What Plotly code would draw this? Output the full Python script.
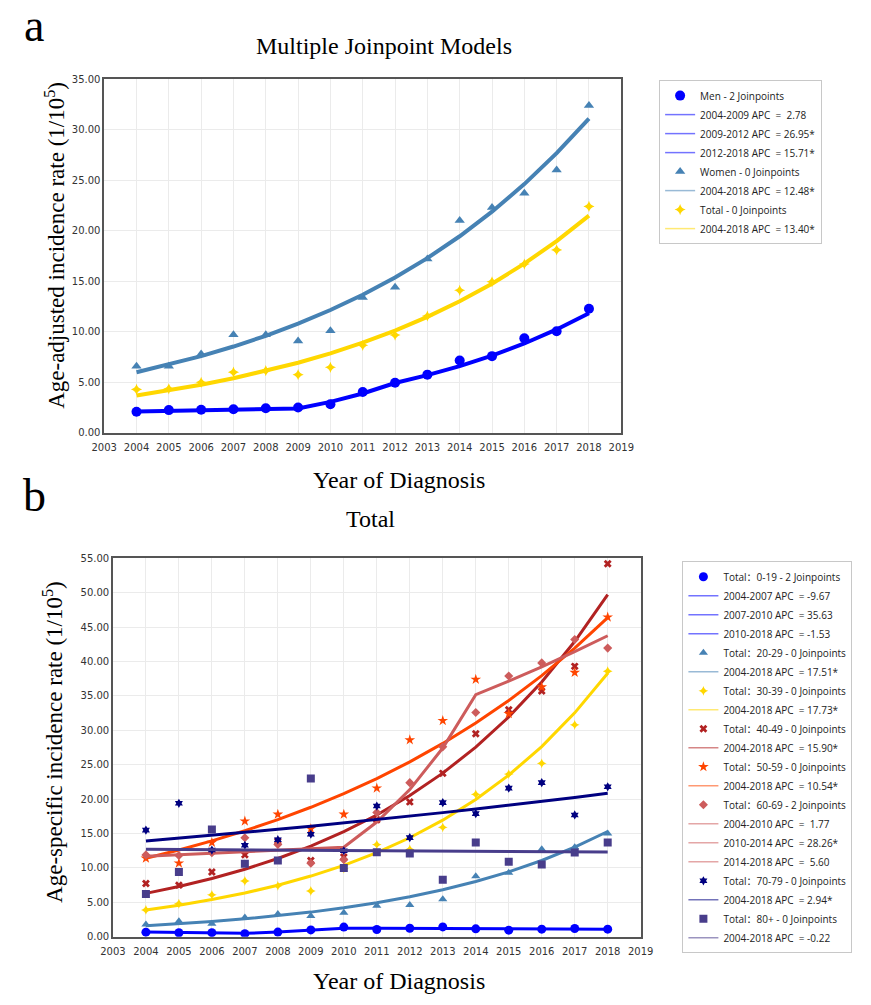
import plotly.graph_objects as go

# ---------------- data ----------------
years = [2004, 2005, 2006, 2007, 2008, 2009, 2010, 2011, 2012, 2013, 2014, 2015, 2016, 2017, 2018]
x_ticks = list(range(2003, 2020))

# Panel a
men_obs = [2.08, 2.25, 2.28, 2.34, 2.44, 2.50, 2.83, 4.04, 4.95, 5.76, 7.16, 7.59, 9.35, 10.06, 12.28]
men_fit = [2.10, 2.16, 2.22, 2.28, 2.35, 2.41, 3.06, 3.89, 4.93, 5.71, 6.60, 7.64, 8.84, 10.23, 11.84]
women_obs = [6.6, 6.6, 7.8, 9.7, 9.7, 9.1, 10.1, 13.4, 14.4, 17.2, 21.0, 22.3, 23.7, 26.0, 32.4]
women_fit = [6.0, 6.75, 7.59, 8.54, 9.60, 10.80, 12.15, 13.67, 15.37, 17.29, 19.45, 21.88, 24.61, 27.68, 31.10]
total_obs = [4.3, 4.36, 5.0, 6.0, 6.15, 5.76, 6.48, 8.66, 9.67, 11.56, 14.1, 14.95, 16.7, 18.1, 22.4]
total_fit = [3.7, 4.2, 4.76, 5.4, 6.12, 6.94, 7.87, 8.93, 10.12, 11.48, 13.02, 14.76, 16.74, 18.98, 21.5]

# Panel b
a019_obs = [0.67, 0.58, 0.60, 0.45, 0.68, 1.0, 1.4, 1.05, 1.24, 1.43, 1.15, 0.96, 1.1, 1.2, 1.1]
a019_fit = [0.68, 0.61, 0.55, 0.50, 0.68, 0.92, 1.25, 1.23, 1.21, 1.19, 1.18, 1.16, 1.14, 1.12, 1.10]
a2029_obs = [1.77, 2.25, 1.9, 2.8, 3.3, 3.0, 3.5, 4.5, 4.6, 5.46, 8.8, 9.3, 12.7, 13.0, 15.0]
a2029_fit = [1.6, 1.88, 2.21, 2.6, 3.05, 3.58, 4.21, 4.95, 5.81, 6.83, 8.03, 9.43, 11.08, 13.02, 15.3]
a3039_obs = [3.9, 4.8, 6.1, 8.1, 7.4, 6.65, 9.9, 13.4, 12.7, 15.9, 20.7, 23.65, 25.2, 30.8, 38.6]
a3039_fit = [3.9, 4.59, 5.41, 6.36, 7.49, 8.82, 10.38, 12.22, 14.39, 16.94, 19.94, 23.48, 27.64, 32.54, 38.3]
a4049_obs = [7.75, 7.5, 9.4, 11.9, 13.9, 11.1, 11.6, 17.0, 19.6, 23.75, 29.5, 33.0, 35.7, 39.3, 54.2]
a4049_fit = [6.3, 7.3, 8.46, 9.81, 11.37, 13.18, 15.27, 17.7, 20.52, 23.78, 27.56, 31.94, 37.02, 42.91, 49.73]
a5059_obs = [11.4, 10.7, 13.7, 16.8, 17.8, 15.7, 17.8, 21.6, 28.6, 31.4, 37.4, 32.4, 36.3, 38.4, 46.45]
a5059_fit = [11.4, 12.6, 13.93, 15.4, 17.02, 18.82, 20.8, 22.99, 25.42, 28.1, 31.06, 34.33, 37.95, 41.95, 46.37]
a6069_obs = [11.9, 11.8, 12.2, 14.4, 13.4, 10.7, 11.2, 18.05, 22.4, 27.6, 32.6, 37.9, 39.8, 43.2, 41.95]
a6069_fit = [11.7, 11.91, 12.12, 12.33, 12.55, 12.77, 13.0, 16.67, 21.39, 27.43, 35.18, 37.15, 39.23, 41.43, 43.75]
a7079_obs = [15.5, 19.4, 12.6, 13.3, 14.1, 14.9, 12.5, 19.0, 14.4, 19.5, 17.9, 21.6, 22.4, 17.7, 21.8]
a7079_fit = [13.9, 14.31, 14.73, 15.16, 15.61, 16.07, 16.54, 17.02, 17.52, 18.04, 18.57, 19.11, 19.67, 20.25, 20.85]
a80_obs = [6.2, 9.4, 15.6, 10.6, 11.1, 23.0, 10.0, 12.3, 12.1, 8.3, 13.7, 10.9, 10.5, 12.25, 13.7]
a80_fit = [12.7, 12.67, 12.64, 12.62, 12.59, 12.56, 12.53, 12.51, 12.48, 12.45, 12.42, 12.40, 12.37, 12.34, 12.31]

NB = "\u00a0"
def apc(period, value):
    return f"{period} APC{NB}{NB}={NB}" + value.replace(" ", NB)

series_a = [
    ("Men - 2 Joinpoints", men_obs, men_fit, "#0000FF", "circle", 10,
     [apc("2004-2009", " 2.78"), apc("2009-2012", "26.95*"), apc("2012-2018", "15.71*")]),
    ("Women - 0 Joinpoints", women_obs, women_fit, "#4682B4", "triangle-up", 9,
     [apc("2004-2018", "12.48*")]),
    ("Total - 0 Joinpoints", total_obs, total_fit, "#FFD700", "star-diamond", 8,
     [apc("2004-2018", "13.40*")]),
]
series_b = [
    ("Total：0-19 - 2 Joinpoints", a019_obs, a019_fit, "#0000FF", "circle", 9,
     [apc("2004-2007", "-9.67"), apc("2007-2010", "35.63"), apc("2010-2018", "-1.53")]),
    ("Total：20-29 - 0 Joinpoints", a2029_obs, a2029_fit, "#4682B4", "triangle-up", 8,
     [apc("2004-2018", "17.51*")]),
    ("Total：30-39 - 0 Joinpoints", a3039_obs, a3039_fit, "#FFD700", "star-diamond", 7,
     [apc("2004-2018", "17.73*")]),
    ("Total：40-49 - 0 Joinpoints", a4049_obs, a4049_fit, "#B22222", "x", 7,
     [apc("2004-2018", "15.90*")]),
    ("Total：50-59 - 0 Joinpoints", a5059_obs, a5059_fit, "#FF4500", "star", 8,
     [apc("2004-2018", "10.54*")]),
    ("Total：60-69 - 2 Joinpoints", a6069_obs, a6069_fit, "#CD5C5C", "diamond", 7,
     [apc("2004-2010", " 1.77"), apc("2010-2014", "28.26*"), apc("2014-2018", " 5.60")]),
    ("Total：70-79 - 0 Joinpoints", a7079_obs, a7079_fit, "#000080", "hexagram", 7,
     [apc("2004-2018", "2.94*")]),
    ("Total：80+ - 0 Joinpoints", a80_obs, a80_fit, "#483D8B", "square", 8,
     [apc("2004-2018", "-0.22")]),
]

fig = go.Figure()

def add_series(series, xa, ya, leg, lw):
    for name, obs, fit, color, symbol, size, segs in series:
        fig.add_trace(go.Scatter(x=years, y=obs, mode="markers", name=name,
                                 marker=dict(color=color, symbol=symbol, size=size),
                                 xaxis=xa, yaxis=ya, legend=leg))
        fig.add_trace(go.Scatter(x=years, y=fit, mode="lines", showlegend=False,
                                 line=dict(color=color, width=lw),
                                 xaxis=xa, yaxis=ya, hoverinfo="skip"))
        for s in segs:
            fig.add_trace(go.Scatter(x=[None], y=[None], mode="lines", name=s,
                                     line=dict(color=color, width=1.5), opacity=0.55,
                                     xaxis=xa, yaxis=ya, legend=leg))

add_series(series_a, "x", "y", "legend", 4)
add_series(series_b, "x2", "y2", "legend2", 3)

W, H = 871, 1005
def px(v): return v / W
def py(v): return 1 - v / H

axis_common = dict(showline=True, linecolor="#555555", linewidth=1.5, mirror=True,
                   showgrid=True, gridcolor="#ebebeb", gridwidth=1, zeroline=False,
                   tickfont=dict(family="DejaVu Sans", size=10, color="#333333"))
xtick = dict(ticks="outside", ticklen=4, tickcolor="rgba(0,0,0,0)")
ytick = dict(ticks="")

leg_common = dict(xanchor="left", yanchor="top", bgcolor="white", bordercolor="#c8c8c8", borderwidth=1,
                  font=dict(family="Open Sans, Noto Sans CJK SC", size=10, color="#222222"),
                  tracegroupgap=0, itemwidth=30)

fig.update_layout(
    width=W, height=H,
    margin=dict(l=0, r=0, t=0, b=0),
    paper_bgcolor="white", plot_bgcolor="white",
    xaxis=dict(domain=[px(94), px(627)], range=[2003, 2019], tickvals=x_ticks, anchor="y", **axis_common, **xtick),
    yaxis=dict(domain=[py(432), py(74)], range=[0, 35], dtick=5, tickformat=".2f", anchor="x", **axis_common, **ytick),
    xaxis2=dict(domain=[px(103), px(647)], range=[2003, 2019], tickvals=x_ticks, anchor="y2", **axis_common, **xtick),
    yaxis2=dict(domain=[py(942), py(559)], range=[0, 55], dtick=5, tickformat=".2f", anchor="x2", **axis_common, **ytick),
    legend=dict(x=px(666), y=py(75), **leg_common),
    legend2=dict(x=px(690), y=py(562), **leg_common),
    showlegend=True,
)

serif = "Liberation Serif, Times New Roman, serif"
annots = [
    dict(text="a", x=px(22), y=py(20), font=dict(family=serif, size=46, color="black")),
    dict(text="b", x=px(22), y=py(495), font=dict(family=serif, size=46, color="black")),
    dict(text="Multiple Joinpoint Models", x=px(382), y=py(40), font=dict(family=serif, size=24, color="black")),
    dict(text="Total", x=px(369), y=py(519), font=dict(family=serif, size=24, color="black")),
    dict(text="Year of Diagnosis", x=px(398), y=py(480), font=dict(family=serif, size=24, color="black")),
    dict(text="Year of Diagnosis", x=px(398), y=py(987), font=dict(family=serif, size=24, color="black")),
    dict(text="Age-adjusted incidence rate (1/10<sup>5</sup>)", x=px(43), y=py(242), textangle=-90,
         font=dict(family=serif, size=23, color="black")),
    dict(text="Age-specific incidence rate (1/10<sup>5</sup>)", x=px(41), y=py(745), textangle=-90,
         font=dict(family=serif, size=23, color="black")),
]
for a in annots:
    fig.add_annotation(xref="paper", yref="paper", showarrow=False, xanchor="center", yanchor="middle", **a)

fig.write_html("out.html")
